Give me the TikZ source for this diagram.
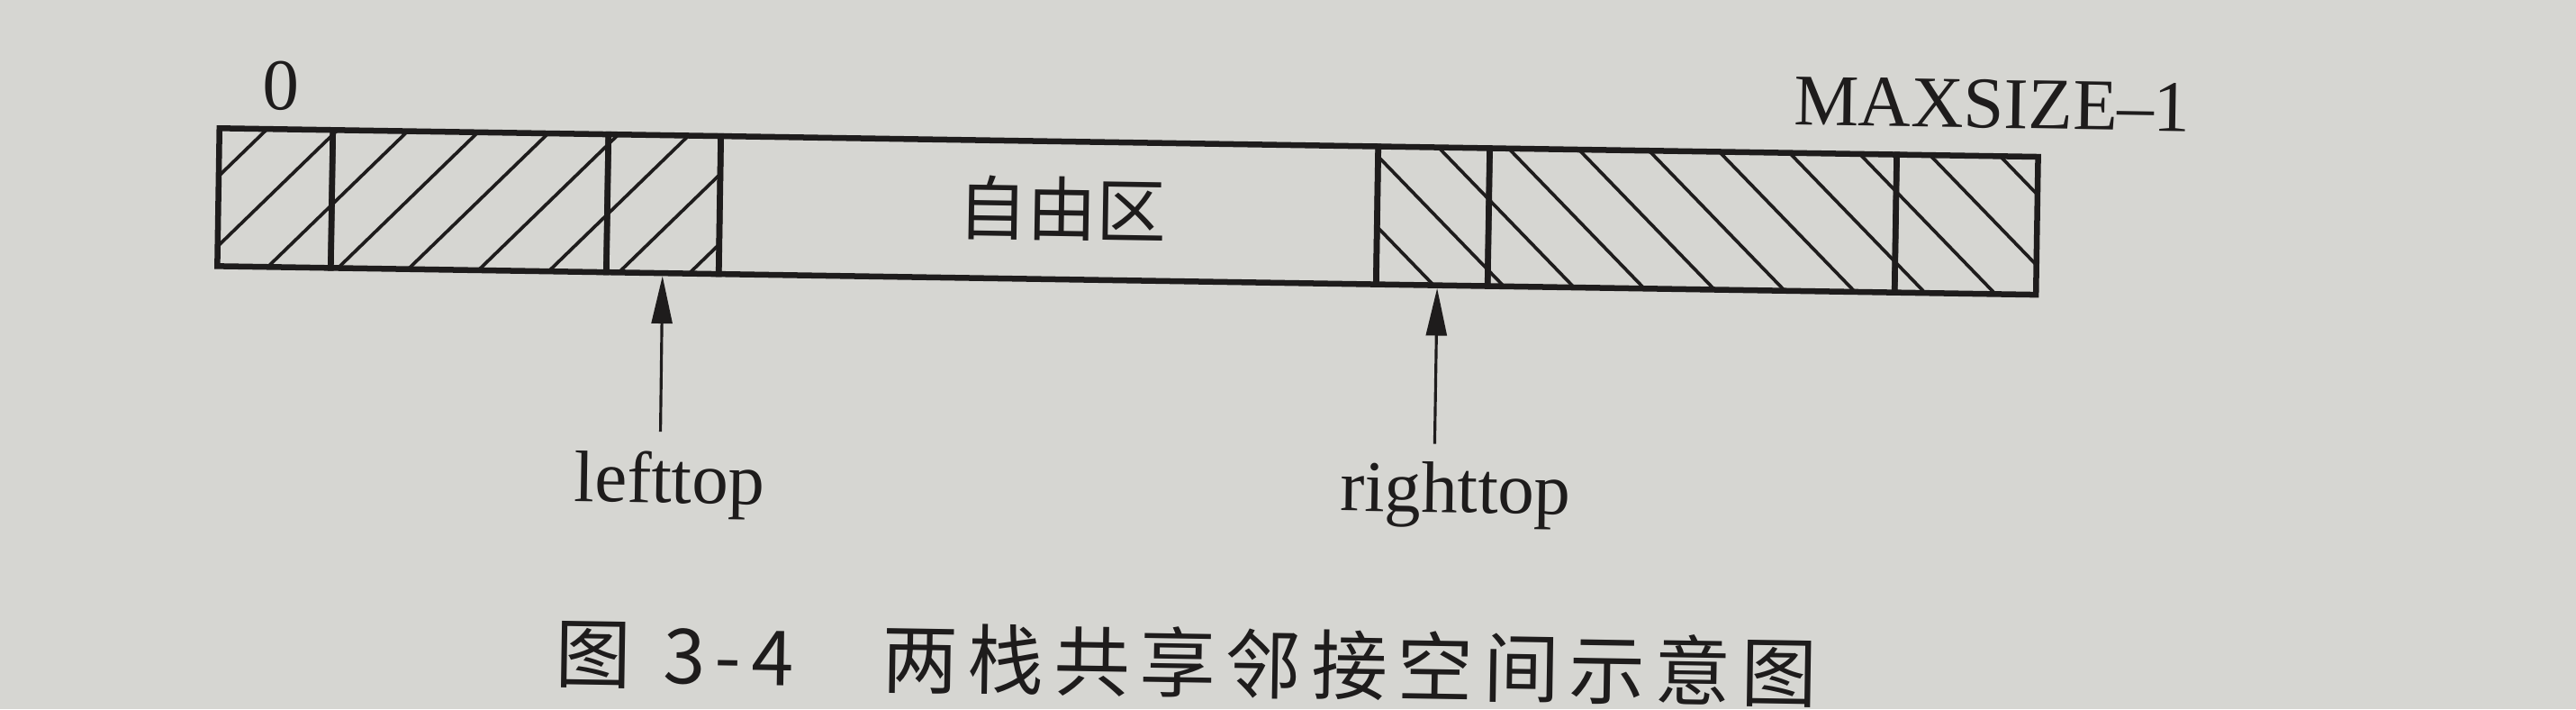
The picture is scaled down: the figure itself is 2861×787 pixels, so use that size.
\documentclass[tikz,border=0pt]{standalone}
\usepackage{fontspec}
\setmainfont{Liberation Serif}
\newfontfamily\cjk{Noto Sans CJK SC}
\newfontfamily\cjkcap[LetterSpace=13]{Noto Sans CJK SC}
\usetikzlibrary{arrows.meta}
\definecolor{paper}{RGB}{214,214,210}
\definecolor{ink}{RGB}{30,28,28}
\tikzset{
  cell/.style={draw=ink, line width=1.85pt, inner sep=0pt, outer sep=0pt, minimum height=15.3mm},
  hatch/.style={draw=ink, line width=1.05pt},
  lbl/.style={text=ink, inner sep=0pt, font=\fontsize{23}{27}\selectfont},
  ptr/.style={draw=ink, line width=0.9pt, shorten >=0.9pt, -{Triangle[length=15pt,width=6.5pt]}},
}
\begin{document}
\begin{tikzpicture}[x=0.01cm,y=-0.01cm]
\fill[paper] (0,0) rectangle (2861,787);
\useasboundingbox (0,0) rectangle (2861,787);
\begin{scope}[rotate around={-0.9:(1430,393)}, transform shape]
  % hatching of the left stack
  \begin{scope}
    \clip (240,161) rectangle (797,314);
    \foreach \k in {-1,...,9} \draw[hatch] ({140+78*\k},314) -- ++(153,-153);
  \end{scope}
  % hatching of the right stack
  \begin{scope}
    \clip (1527,161) rectangle (2260,314);
    \foreach \k in {-2,...,10} \draw[hatch] ({2140-78*\k},161) -- ++(153,153);
  \end{scope}
  % cells
  \node[cell, minimum width=12.6mm] (c1) at (303,237.5) {};
  \node[cell, minimum width=30.6mm] (c2) at (519,237.5) {};
  \node[cell, minimum width=12.5mm] (c3) at (734.5,237.5) {};
  \node[cell, minimum width=73mm]   (free) at (1162,237.5) {};
  \node[cell, minimum width=12.4mm] (c5) at (1589,237.5) {};
  \node[cell, minimum width=45.2mm] (c6) at (1877,237.5) {};
  \node[cell, minimum width=15.7mm] (c7) at (2181.5,237.5) {};
  \node[text=ink, inner sep=0pt, font=\cjk\fontsize{22}{26}\selectfont] (freelbl) at (1177,236) {自由区};
  % labels
  \node[lbl, anchor=base] (zero) at (308,139) {0};
  \node[lbl, anchor=base east] (max) at (2429,130) {MAXSIZE–1};
  \node[lbl, anchor=base] (ltl) at (746,569) {lefttop};
  \node[lbl, anchor=base] (rtl) at (1619,566) {righttop};
  % pointers
  \coordinate (lt) at (735,490);
  \coordinate (rt) at (1595,490);
  \coordinate (rtip) at (1595,314);
  \draw[ptr] (lt) -- (c3.south);
  \draw[ptr] (rt) -- (rtip);
  % caption
  \node[text=ink, inner sep=0pt, font=\cjkcap\fontsize{24}{28}\selectfont] (cap) at (1323,737)
    {图\hspace{10pt}3-4\hspace{28pt}两栈共享邻接空间示意图};
\end{scope}
\end{tikzpicture}
\end{document}
